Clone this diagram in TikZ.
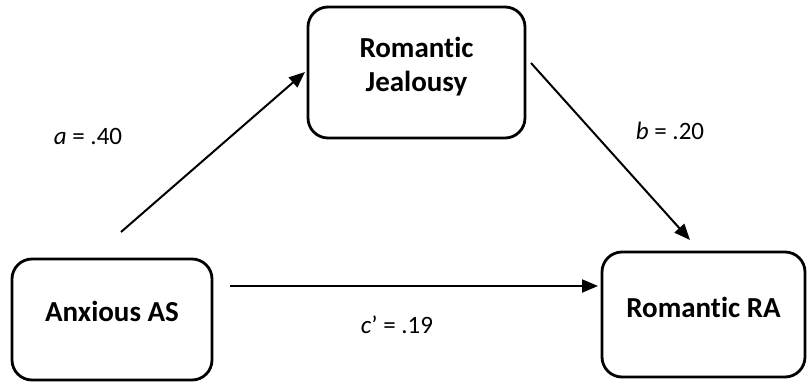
\documentclass[tikz,border=0pt]{standalone}
\usepackage{fontspec}
\setmainfont{Carlito}[Ligatures={NoCommon}]
\usetikzlibrary{arrows.meta}
\begin{document}
\begin{tikzpicture}[x=1pt,y=-1pt,
  box/.style={draw,line width=2.8pt,rounded corners=20pt,align=center,
    font=\fontsize{29}{34}\selectfont\bfseries,inner sep=0pt},
  conn/.style={line width=2pt,-{Triangle[length=16pt,width=13pt]}},
  lab/.style={font=\fontsize{25}{30}\selectfont}]
\useasboundingbox (0,0) rectangle (809,385);
\node[box,minimum width=200pt,minimum height=121pt,text depth=17pt] (anx) at (112,319.5) {Anxious AS};
\node[box,minimum width=217pt,minimum height=131pt,text depth=16pt] (jeal) at (416.5,72.5) {Romantic\\Jealousy};
\node[box,minimum width=203pt,minimum height=125pt,text depth=14pt] (ra) at (703.5,314.5) {Romantic RA};
\coordinate (a1) at (121,232);
\coordinate (a2) at (305,72);
\coordinate (b1) at (531,63);
\coordinate (b2) at (690,240);
\coordinate (c1) at (230,286);
\coordinate (c2) at (598,286);
\draw[conn] (a1) -- (a2);
\draw[conn] (b1) -- (b2);
\draw[conn] (c1) -- (c2);
\node[lab] (la) at (88,136) {\textit{a} = .40};
\node[lab] (lb) at (670,131) {\textit{b} = .20};
\node[lab] (lc) at (397,325) {\textit{c}’ = .19};
\end{tikzpicture}
\end{document}
